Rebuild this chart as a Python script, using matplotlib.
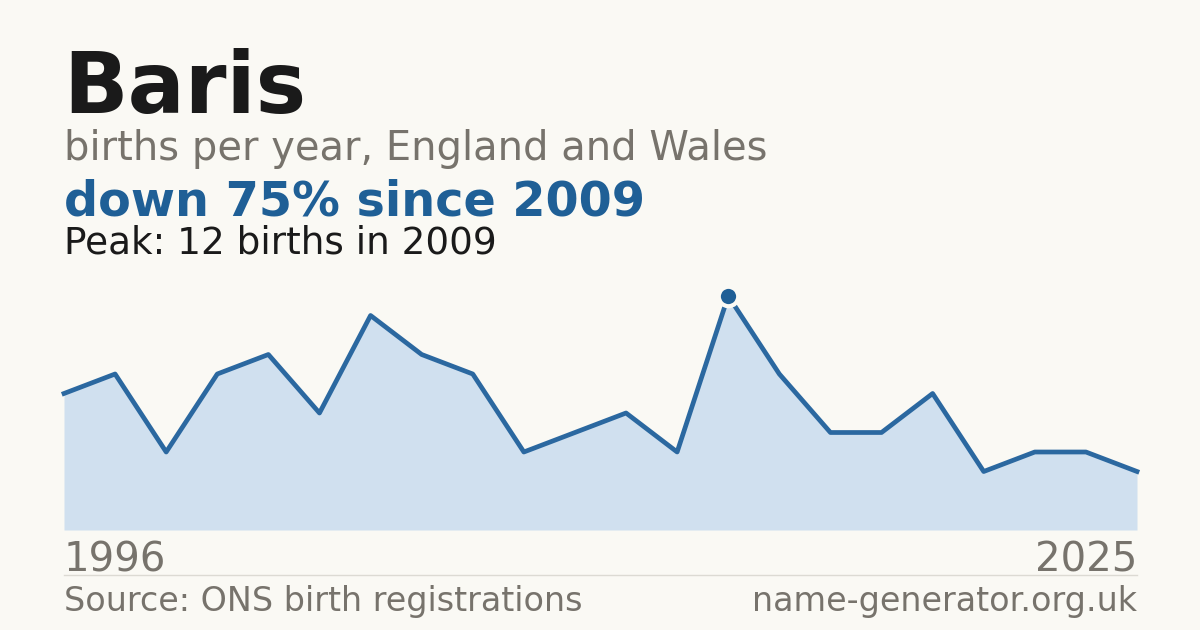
import matplotlib
matplotlib.use("Agg")
import matplotlib.pyplot as plt
import numpy as np

# Data (births per year, plotted in sequence order)
values = [7, 8, 4, 8, 9, 6, 11, 9, 8, 4, 5, 6, 4, 12, 8, 5, 5, 7, 3, 4, 4, 3]
peak_index = 13
start_label = "1996"
end_label = "2025"
title = "Baris"
subtitle = "births per year, England and Wales"
headline = "down 75% since 2009"
peak_text = "Peak: 12 births in 2009"
source = "Source: ONS birth registrations"
site = "name-generator.org.uk"

BG = "#faf9f4"
BLUE = "#1f5f96"
LINE = "#2b68a0"
FILL = "#d0e0ef"
GREY = "#77736c"
DARK = "#1a1a1a"

W, H = 1200, 630
fig = plt.figure(figsize=(W / 100, H / 100), dpi=100, facecolor=BG)

def fx(px):
    return px / W

def fy(py):
    return 1 - py / H

left, right, base, top = 64, 1137, 530, 296
ax = fig.add_axes([fx(left), fy(base), fx(right - left), (base - top) / H])
ax.set_facecolor(BG)
x = np.arange(len(values))
ax.fill_between(x, 0, values, color=FILL, lw=0, zorder=1)
ax.plot(x, values, color=LINE, lw=3.4, solid_joinstyle="round", zorder=2, clip_on=False)
ax.plot([x[peak_index]], [values[peak_index]], "o", ms=14, mfc=BLUE, mec=BG, mew=3,
        zorder=3, clip_on=False)
ax.set_xlim(0, len(values) - 1)
ax.set_ylim(0, 12)
ax.axis("off")

fig.text(fx(63), fy(113), title, fontsize=61, fontweight="bold", color=DARK, va="baseline")
fig.text(fx(64), fy(160), subtitle, fontsize=28.8, color=GREY, va="baseline")
fig.text(fx(64), fy(215), headline, fontsize=34.4, fontweight="bold", color=BLUE, va="baseline")
fig.text(fx(64), fy(253), peak_text, fontsize=26.9, color=DARK, va="baseline")
fig.text(fx(64), fy(571), start_label, fontsize=29, color=GREY, va="baseline")
fig.text(fx(1137), fy(571), end_label, fontsize=29, color=GREY, va="baseline", ha="right")
fig.add_artist(plt.Line2D([fx(64), fx(1137)], [fy(574.5), fy(574.5)], color="#dcdad3", lw=1))
fig.text(fx(64), fy(611), source, fontsize=24, color=GREY, va="baseline")
fig.text(fx(1137), fy(611), site, fontsize=24, color=GREY, va="baseline", ha="right")

fig.savefig("out.png", dpi=100, facecolor=BG)
